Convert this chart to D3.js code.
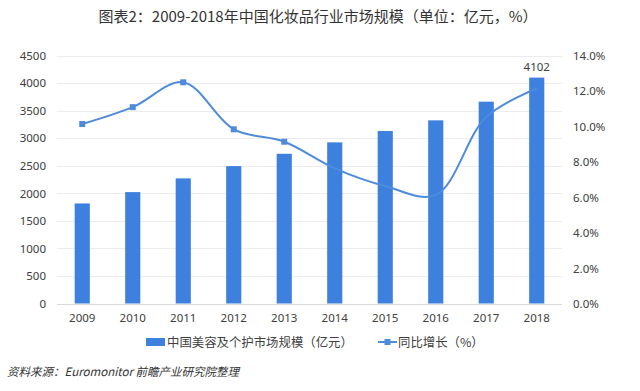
<!DOCTYPE html>
<html><head><meta charset="utf-8">
<script src="https://cdn.jsdelivr.net/npm/d3@7"></script>
<style>
body{margin:0;background:#fff;}
svg{display:block;font-family:"Noto Sans CJK SC","Noto Sans",sans-serif;}
</style></head>
<body>
<svg id="c" width="640" height="391"></svg>
<script>
const years = ["2009","2010","2011","2012","2013","2014","2015","2016","2017","2018"];
const marketSize = [1817,2023,2272,2495,2719,2926,3132,3326,3665,4102];
const growth = [10.15,11.1,12.5,9.85,9.15,7.65,6.65,6.15,10.55,12.15];
const leftTicks = [0,500,1000,1500,2000,2500,3000,3500,4000,4500];
const rightTicks = [0,2,4,6,8,10,12,14];
const markerCount = 5;

const svg = d3.select("#c");
const M = {l:57, r:562, t:55.7, b:303.5};
const x = d3.scaleBand().domain(years).range([M.l, M.r]).paddingInner(0.7).paddingOuter(0.35);
const xc = d => x(d) + x.bandwidth()/2;
const yL = d3.scaleLinear().domain([0,4500]).range([M.b, M.t]);
const yR = d3.scaleLinear().domain([0,14]).range([M.b+0.5, M.t]);
const numFont = "'Noto Sans','Open Sans',sans-serif";

svg.append("text").attr("x",318).attr("y",22).attr("text-anchor","middle")
  .attr("font-size",15).attr("fill","#333")
  .text("图表2：2009-2018年中国化妆品行业市场规模（单位：亿元，%）");

// gridlines
svg.append("g").selectAll("line").data(leftTicks).join("line")
  .attr("x1",M.l).attr("x2",M.r).attr("y1",d=>Math.round(yL(d))+0.5).attr("y2",d=>Math.round(yL(d))+0.5)
  .attr("stroke",d=>d===0?"#d9d9d9":"#ececec").attr("stroke-width",1);

// left axis
const gl = svg.append("g").attr("transform",`translate(46,0)`)
  .call(d3.axisLeft(yL).tickValues(leftTicks).tickSize(0).tickPadding(0).tickFormat(d=>String(d)));
gl.select(".domain").remove();
gl.selectAll("text").attr("font-size",11.5).attr("fill","#404040").attr("font-family",numFont);

// right axis
const gr = svg.append("g").attr("transform",`translate(573,0)`)
  .call(d3.axisRight(yR).tickValues(rightTicks).tickSize(0).tickPadding(0).tickFormat(d=>d.toFixed(1)+"%"));
gr.select(".domain").remove();
gr.selectAll("text").attr("font-size",11.5).attr("fill","#404040").attr("font-family",numFont);

// x axis
const gx = svg.append("g").attr("transform",`translate(0,${M.b+10})`)
  .call(d3.axisBottom(x).tickSize(0).tickPadding(0));
gx.select(".domain").remove();
gx.selectAll("text").attr("font-size",11.5).attr("fill","#404040").attr("font-family",numFont);

// bars
const barColor = "#3d80de";
svg.append("g").selectAll("rect").data(marketSize).join("rect")
  .attr("x",(d,i)=>x(years[i])).attr("width",x.bandwidth())
  .attr("y",d=>yL(d)).attr("height",d=>yL(0)-yL(d)).attr("fill",barColor);

// last bar label
svg.append("text").attr("x",xc(years[9])).attr("y",yL(marketSize[9])-7)
  .attr("text-anchor","middle").attr("font-size",11.5).attr("fill","#404040")
  .attr("font-family",numFont).text(marketSize[9]);

// line
const lineColor = "#4f8bdb";
const line = d3.line().x((d,i)=>xc(years[i])).y(d=>yR(d)).curve(d3.curveCatmullRom.alpha(0.5));
svg.append("path").datum(growth).attr("d",line).attr("fill","none")
  .attr("stroke",lineColor).attr("stroke-width",2);
svg.append("g").selectAll("rect").data(growth.slice(0,markerCount)).join("rect")
  .attr("x",(d,i)=>xc(years[i])-3).attr("y",d=>yR(d)-3).attr("width",6).attr("height",6)
  .attr("fill",lineColor);

// legend
const lg = svg.append("g");
lg.append("rect").attr("x",146).attr("y",338).attr("width",19).attr("height",8).attr("fill",barColor);
lg.append("text").attr("x",167).attr("y",346.5).attr("font-size",12.4).attr("fill","#404040")
  .text("中国美容及个护市场规模（亿元）");
lg.append("line").attr("x1",378).attr("x2",397).attr("y1",342).attr("y2",342).attr("stroke",lineColor).attr("stroke-width",2);
lg.append("rect").attr("x",384.5).attr("y",339).attr("width",6).attr("height",6).attr("fill",lineColor);
lg.append("text").attr("x",398).attr("y",346.5).attr("font-size",12.4).attr("fill","#404040")
  .text("同比增长（%）");

// source
svg.append("text").attr("x",7).attr("y",376).attr("font-size",11.5).attr("fill","#333")
  .attr("font-style","italic").text("资料来源：Euromonitor 前瞻产业研究院整理");
</script>
</body></html>
